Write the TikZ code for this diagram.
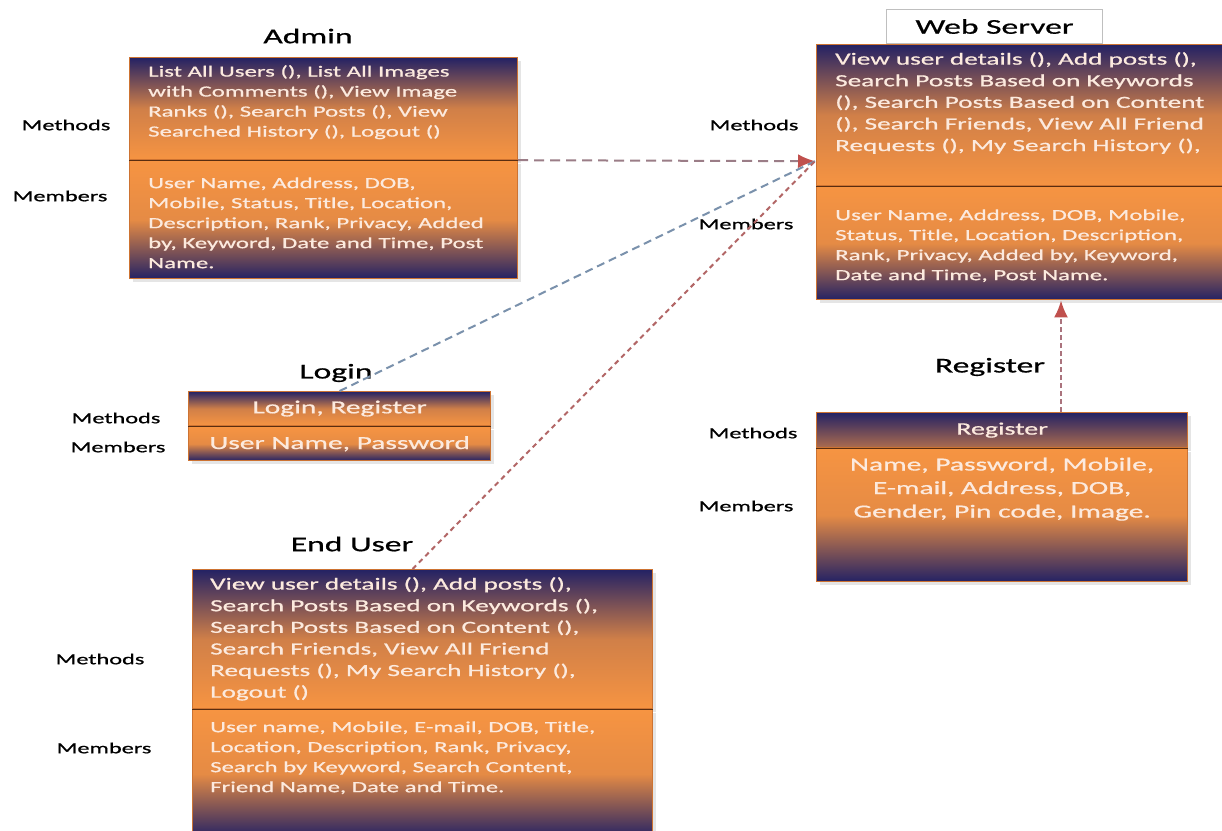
\documentclass[tikz,border=0pt]{standalone}
\usepackage{fontspec}
\setmainfont{Carlito}[FakeStretch=1.6,FakeBold=0.8]
\usetikzlibrary{arrows.meta,calc,shadows}

\definecolor{navy}{RGB}{36,34,100}
\definecolor{boxorange}{RGB}{246,148,66}
\definecolor{boxline}{RGB}{205,115,50}
\definecolor{divline}{RGB}{90,45,15}
\definecolor{boxtxt}{RGB}{252,234,222}
\definecolor{arrowred}{RGB}{192,80,77}

\tikzset{
  compart/.style={rectangle, draw=boxline, line width=1.2pt, anchor=north west, inner sep=0pt,
    drop shadow={shadow xshift=3pt, shadow yshift=-3pt, fill=black!20}},
  methbox/.style={compart, top color=navy, bottom color=boxorange, middle color=boxorange!82!navy},
  membox/.style={compart, top color=boxorange, bottom color=navy, middle color=boxorange!92!navy},
  divider/.style={divline, line width=1.4pt},
  boxtext/.style={text=boxtxt, inner sep=0pt, align=left, anchor=north west, font=\fontsize{15.5}{20}\selectfont},
  boxtextbig/.style={boxtext, font=\fontsize{17}{21.6}\selectfont},
  centertext/.style={text=boxtxt, inner sep=0pt, align=center, font=\fontsize{18.4}{23.5}\selectfont},
  sidelab/.style={font=\fontsize{15.2}{18}\selectfont},
  classtitle/.style={font=\fontsize{21}{24}\selectfont},
  conn/.style={line width=2pt},
  tip/.style={-{Latex[length=17pt,width=14pt,color=arrowred]}}
}

\begin{document}
\begin{tikzpicture}[x=1pt,y=-1pt]
\useasboundingbox (0,0) rectangle (1222,830);
\clip (0,0) rectangle (1222,830);
\fill[white] (0,0) rectangle (1222,830);

%Admin
\node[methbox, minimum width=388pt, minimum height=102pt] (adM) at (129,57) {};
\node[membox, minimum width=388pt, minimum height=118pt] (adB) at (adM.south west) {};
\draw[divider] (adM.south west) -- (adM.south east);
\node[boxtext] (adMt) at ($(adM.north west)+(19,8)$) {List All Users (), List All Images\\with Comments (), View Image\\Ranks (), Search Posts (), View\\Searched History (), Logout ()};
\node[boxtext] (adBt) at ($(adB.north west)+(19,17)$) {User Name, Address, DOB,\\Mobile, Status, Title, Location,\\Description, Rank, Privacy, Added\\by, Keyword, Date and Time, Post\\Name.};
\node[classtitle] (adT) at (308,36) {Admin};
\node[sidelab] (adMl) at (66,125) {Methods};
\node[sidelab] (adBl) at (60,196) {Members};

%Web Server
\node[methbox, minimum width=410pt, minimum height=141pt] (wsM) at (816,44) {};
\node[membox, minimum width=410pt, minimum height=113pt] (wsB) at (wsM.south west) {};
\draw[divider] (wsM.south west) -- (wsM.south east);
\node[boxtextbig] (wsMt) at ($(wsM.north west)+(19,8)$) {View user details (), Add posts (),\\Search Posts Based on Keywords\\(), Search Posts Based on Content\\(), Search Friends, View All Friend\\Requests (), My Search History (),};
\node[boxtext] (wsBt) at ($(wsB.north west)+(19,23)$) {User Name, Address, DOB, Mobile,\\Status, Title, Location, Description,\\Rank, Privacy, Added by, Keyword,\\Date and Time, Post Name.};
\node[draw=black!25, fill=white, line width=1pt, minimum width=216pt, minimum height=34pt, anchor=south west, classtitle] (wsT) at (886,44) {Web Server\hspace{12pt}};
\node[sidelab] (wsMl) at (754,125) {Methods};
\node[sidelab] (wsBl) at (746,224) {Members};

%Login
\node[methbox, minimum width=302pt, minimum height=34pt] (lgM) at (188,391) {};
\node[membox, minimum width=302pt, minimum height=34pt] (lgB) at (lgM.south west) {};
\draw[divider] (lgM.south west) -- (lgM.south east);
\node[centertext] (lgMt) at (lgM.center) {Login, Register};
\node[centertext] (lgBt) at (lgB.center) {User Name, Password};
\node[classtitle] (lgT) at (336,373) {Login};
\node[sidelab] (lgMl) at (116,418) {Methods};
\node[sidelab] (lgBl) at (118,447) {Members};

%Register
\node[methbox, minimum width=371pt, minimum height=35pt, middle color=boxorange!40!navy, bottom color=boxorange!65!navy] (rgM) at (816,412) {};
\node[membox, minimum width=371pt, minimum height=133pt] (rgB) at (rgM.south west) {};
\draw[divider] (rgM.south west) -- (rgM.south east);
\node[centertext, font=\fontsize{17.5}{20}\selectfont] (rgMt) at (rgM.center) {Register};
\node[centertext] (rgBt) at ($(rgB.north)+(0,41)$) {Name, Password, Mobile,\\E-mail, Address, DOB,\\Gender, Pin code, Image.};
\node[classtitle] (rgT) at (990,367) {Register};
\node[sidelab] (rgMl) at (753,433) {Methods};
\node[sidelab] (rgBl) at (746,506) {Members};

%End User
\node[methbox, minimum width=460pt, minimum height=139pt] (euM) at (192,569) {};
\node[membox, minimum width=460pt, minimum height=128pt] (euB) at (euM.south west) {};
\draw[divider] (euM.south west) -- (euM.south east);
\node[boxtextbig] (euMt) at ($(euM.north west)+(18,8)$) {View user details (), Add posts (),\\Search Posts Based on Keywords (),\\Search Posts Based on Content (),\\Search Friends, View All Friend\\Requests (), My Search History (),\\Logout ()};
\node[boxtext] (euBt) at ($(euB.north west)+(18,12)$) {User name, Mobile, E-mail, DOB, Title,\\Location, Description, Rank, Privacy,\\Search by Keyword, Search Content,\\Friend Name, Date and Time.};
\node[classtitle] (euT) at (352,544) {End User};
\node[sidelab] (euMl) at (100,659) {Methods};
\node[sidelab] (euBl) at (104,748) {Members};

%liens
\coordinate (hit) at ($(wsM.south west)+(-1,-25)$);
\coordinate (rgtop) at ($(rgM.north west)+(245,0)$);
\draw[conn, color={rgb,255:red,155;green,125;blue,135}, dash pattern=on 10pt off 6pt, tip] (adM.south east) -- (hit);
\draw[conn, color={rgb,255:red,122;green,145;blue,172}, dash pattern=on 8pt off 5pt] (lgM.north) -- (hit);
\draw[conn, color={rgb,255:red,178;green,102;blue,102}, dash pattern=on 5pt off 4pt] ($(euM.north)+(-10,0)$) -- (hit);
\draw[conn, color={rgb,255:red,170;green,115;blue,125}, dash pattern=on 5pt off 3pt, tip] (rgtop) -- (rgtop |- wsB.south);
\end{tikzpicture}
\end{document}
